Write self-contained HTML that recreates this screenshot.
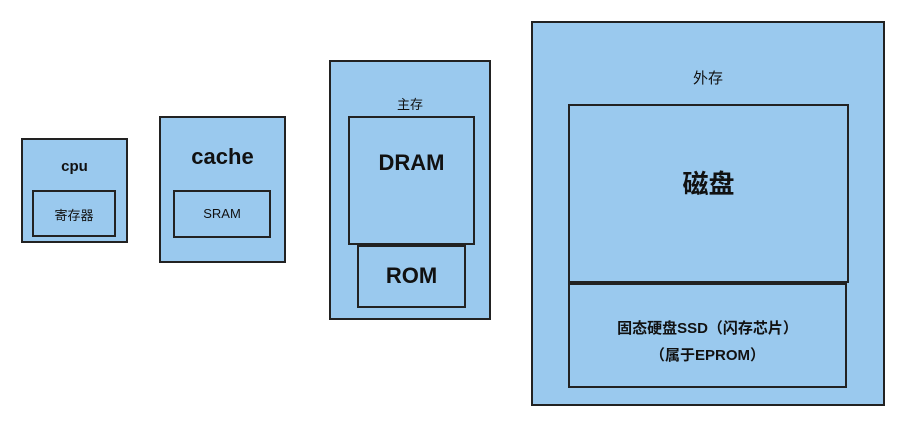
<!DOCTYPE html>
<html><head><meta charset="utf-8"><style>
body{margin:0;width:900px;height:425px;background:#fff;position:relative;overflow:hidden;font-family:"Liberation Sans","Noto Sans CJK SC",sans-serif;}
.b{position:absolute;box-sizing:border-box;background:#9ac9ee;border:2.5px solid #222;}
.t{position:absolute;left:0;right:0;text-align:center;color:#111;font-weight:bold;}
</style></head><body>
<div class="b" style="left:21px;top:138px;width:107px;height:105px"><div class="t" style="top:18px;font-size:15px">cpu</div></div>
<div class="b" style="left:32px;top:190px;width:84px;height:47px"><div class="t" style="top:13px;font-size:13px;font-weight:normal">寄存器</div></div>
<div class="b" style="left:159px;top:116px;width:127px;height:147px"><div class="t" style="top:26px;font-size:22px">cache</div></div>
<div class="b" style="left:173px;top:190px;width:98px;height:48px"><div class="t" style="top:14px;font-size:13px;font-weight:normal">SRAM</div></div>
<div class="b" style="left:329px;top:60px;width:162px;height:260px"><div class="t" style="top:32px;font-size:13px;font-weight:normal">主存</div></div>
<div class="b" style="left:348px;top:116px;width:127px;height:129px"><div class="t" style="top:32px;font-size:22px">DRAM</div></div>
<div class="b" style="left:357px;top:245px;width:109px;height:63px"><div class="t" style="top:16px;font-size:22px">ROM</div></div>
<div class="b" style="left:531px;top:21px;width:354px;height:385px"><div class="t" style="top:44px;font-size:15px;font-weight:normal">外存</div></div>
<div class="b" style="left:568px;top:104px;width:281px;height:179px"><div class="t" style="top:58px;font-size:26px">磁盘</div></div>
<div class="b" style="left:568px;top:283px;width:279px;height:105px"><div class="t" style="top:30px;font-size:15px;line-height:27px">固态硬盘SSD（闪存芯片）<br>（属于EPROM）</div></div>
</body></html>
